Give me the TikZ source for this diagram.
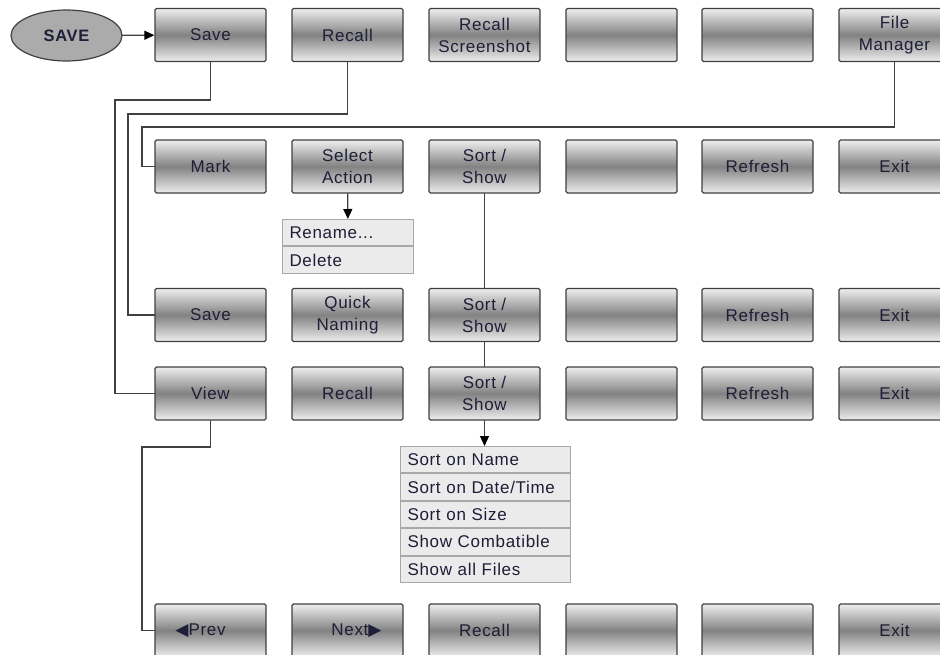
\documentclass[tikz,border=0pt]{standalone}
\usepackage{fontspec}
\setmainfont{Liberation Sans}[LetterSpace=4]
\newfontfamily\symfont{DejaVu Sans}
\usetikzlibrary{arrows.meta, shapes.geometric, calc, positioning}
\definecolor{btnDark}{HTML}{828282}
\definecolor{btnLight}{HTML}{EEEEEE}
\definecolor{lineGray}{HTML}{404040}
\definecolor{menuFill}{HTML}{EBEBEB}
\definecolor{menuDraw}{HTML}{A8A8A8}
\definecolor{txtDark}{HTML}{1E1E38}
\definecolor{ovalGray}{HTML}{ABABAB}
\tikzset{
	btn/.style={draw=lineGray, line width=1.2pt, rounded corners=1.5pt, minimum width=111pt, minimum height=53pt, inner sep=0pt, align=center, top color=btnLight, bottom color=btnLight, middle color=btnDark, text=txtDark, font=\fontsize{17}{22}\selectfont},
	menuitem/.style={draw=menuDraw, fill=menuFill, line width=1pt, minimum height=26.4pt, inner xsep=7pt, inner ysep=0pt, anchor=north west, align=left, text=txtDark, font=\fontsize{17}{20}\selectfont},
	wire/.style={draw=lineGray, line width=1.2pt},
	tip/.style={-{Triangle[width=9pt, length=10pt, black]}}
}

\begin{document}
\begin{tikzpicture}[x=1pt, y=-1pt, line cap=round]

	\useasboundingbox (0,0) rectangle (940,654);
	\clip (0,0) rectangle (940,654);

	% softkey start
	\node[ellipse, draw=lineGray, fill=ovalGray, line width=1.2pt, minimum width=111pt, minimum height=51pt, inner sep=0pt, text=txtDark, font=\fontsize{16.5}{19}\selectfont\bfseries] (start) at (66.5,35.5) {SAVE};

	% row 1
	\node[btn] (save1) at (210.5,35) {Save};
	\node[btn] (recall1) at (347.5,35) {Recall};
	\node[btn] (shot1) at (484.5,35) {Recall\\Screenshot};
	\node[btn] (blankA1) at (621.5,35) {};
	\node[btn] (blankB1) at (757.5,35) {};
	\node[btn] (fman1) at (894.5,35) {File\\Manager};

	% row 2
	\node[btn] (mark2) at (210.5,166.5) {Mark};
	\node[btn] (select2) at (347.5,166.5) {Select\\Action};
	\node[btn] (sort2) at (484.5,166.5) {Sort /\\Show};
	\node[btn] (blank2) at (621.5,166.5) {};
	\node[btn] (refresh2) at (757.5,166.5) {Refresh};
	\node[btn] (exit2) at (894.5,166.5) {Exit};

	% row 3
	\node[btn] (save3) at (210.5,315) {Save};
	\node[btn] (quick3) at (347.5,315) {Quick\\Naming};
	\node[btn] (sort3) at (484.5,315) {Sort /\\Show};
	\node[btn] (blank3) at (621.5,315) {};
	\node[btn] (refresh3) at (757.5,315) {Refresh};
	\node[btn] (exit3) at (894.5,315) {Exit};

	% row 4
	\node[btn] (view4) at (210.5,393.5) {View};
	\node[btn] (recall4) at (347.5,393.5) {Recall};
	\node[btn] (sort4) at (484.5,393.5) {Sort /\\Show};
	\node[btn] (blank4) at (621.5,393.5) {};
	\node[btn] (refresh4) at (757.5,393.5) {Refresh};
	\node[btn] (exit4) at (894.5,393.5) {Exit};

	% row 5
	\node[btn] (prev5) at (210.5,630.5) {{\symfont\fontsize{17}{17}\selectfont ◀}Prev\hspace*{20pt}};
	\node[btn] (next5) at (347.5,630.5) {\hspace*{18pt}Next{\symfont\fontsize{17}{17}\selectfont ▶}};
	\node[btn] (recall5) at (484.5,630.5) {Recall};
	\node[btn] (blankA5) at (621.5,630.5) {};
	\node[btn] (blankB5) at (757.5,630.5) {};
	\node[btn] (exit5) at (894.5,630.5) {Exit};

	% drop-down lists
	\node[menuitem, text width=117pt] (rename) at (282,219) {Rename...};
	\node[menuitem, text width=117pt] (delete) at (rename.south west) {Delete};

	\node[menuitem, text width=156pt] (byname) at (400,446) {Sort on Name};
	\node[menuitem, text width=156pt] (bydate) at (byname.south west) {Sort on Date/Time};
	\node[menuitem, text width=156pt] (bysize) at (bydate.south west) {Sort on Size};
	\node[menuitem, text width=156pt] (compat) at (bysize.south west) {Show Combatible};
	\node[menuitem, text width=156pt] (allfiles) at (compat.south west) {Show all Files};

	% bends
	\coordinate (k1) at (115,100);
	\coordinate (k2) at (128,114);
	\coordinate (k3) at (142,127);
	\coordinate (k4) at (142,447);

	\draw[wire, tip] (start) -- (save1);
	\draw[wire] (save1.south) |- (k1) |- (view4.west);
	\draw[wire] (recall1.south) |- (k2) |- (save3.west);
	\draw[wire] (fman1.south) |- (k3) |- (mark2.west);
	\draw[wire] (view4.south) |- (k4) |- (prev5.west);

	\draw[wire, tip] (select2) -- (rename);
	\draw[wire] (sort2) -- (sort3);
	\draw[wire] (sort3) -- (sort4);
	\draw[wire, tip] (sort4) -- (byname.north -| sort4.south);

\end{tikzpicture}
\end{document}
